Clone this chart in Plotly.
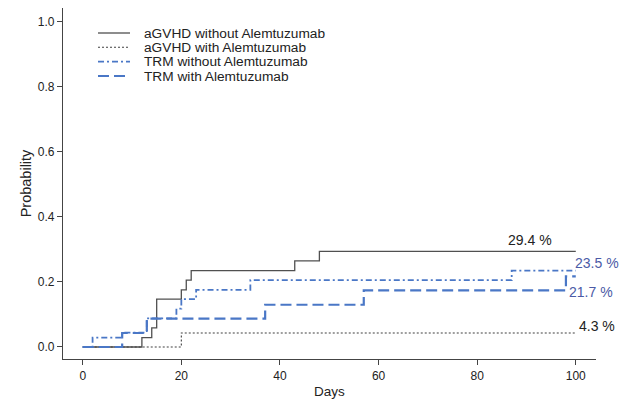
import plotly.graph_objects as go

# ---- data ----
agvhd_wo_days = [0, 12, 14, 15, 20, 21, 22, 43, 48, 100]
agvhd_wo_prob = [0.0, 0.029, 0.059, 0.147, 0.176, 0.206, 0.235, 0.265, 0.294, 0.294]

agvhd_w_days = [0, 20, 100]
agvhd_w_prob = [0.0, 0.043, 0.043]

trm_wo_days = [0, 2, 8, 13, 19, 20, 23, 34, 87, 100]
trm_wo_prob = [0.0, 0.029, 0.044, 0.088, 0.118, 0.147, 0.176, 0.206, 0.235, 0.235]

trm_w_days = [0, 8, 13, 37, 57, 98, 100]
trm_w_prob = [0.0, 0.043, 0.087, 0.130, 0.174, 0.217, 0.217]

series_names = ["aGVHD without Alemtuzumab", "aGVHD with Alemtuzumab",
                "TRM without Alemtuzumab", "TRM with Alemtuzumab"]
end_labels = ["29.4 %", "4.3 %", "23.5 %", "21.7 %"]
x_ticks = [0, 20, 40, 60, 80, 100]
y_ticks = [0.0, 0.2, 0.4, 0.6, 0.8, 1.0]
y_ticklabels = ["0.0", "0.2", "0.4", "0.6", "0.8", "1.0"]

# ---- styles ----
BLACK = "#505050"
BLUE = "#4a77c6"
LABEL_BLUE = "#4b5aa6"
FONT = "Liberation Sans, Arial, sans-serif"
styles = [
    dict(color=BLACK, width=1.3, dash="solid"),
    dict(color="#404040", width=1.1, dash="2px,2px"),
    dict(color=BLUE, width=1.8, dash="6px,3px,2px,3px"),
    dict(color=BLUE, width=2.2, dash="11px,5px"),
]
label_colors = ["#222222", "#222222", LABEL_BLUE, LABEL_BLUE]
# label offsets (xanchor, xshift, yshift)
label_pos = [("right", -22, 11), ("left", 1, 7), ("left", -3, 8), ("left", -9, -16)]

W, H = 621, 399
ML, MR, MT, MB = 63, 25, 8, 40
PW, PH = W - ML - MR, H - MT - MB

fig = go.Figure()
data = [(agvhd_wo_days, agvhd_wo_prob), (agvhd_w_days, agvhd_w_prob),
        (trm_wo_days, trm_wo_prob), (trm_w_days, trm_w_prob)]
for (d, p), name, st in zip(data, series_names, styles):
    fig.add_trace(go.Scatter(x=d, y=p, mode="lines", name=name,
                             line=dict(shape="hv", **st), showlegend=False,
                             hoverinfo="x+y+name"))

# end-of-curve percentage labels
for (d, p), txt, col, (xa, xs, ys) in zip(data, end_labels, label_colors, label_pos):
    fig.add_annotation(x=d[-1], y=p[-1], text=txt, showarrow=False,
                       xanchor=xa, yanchor="middle", xshift=xs, yshift=ys,
                       font=dict(family=FONT, size=14, color=col))

# manual legend (compact row spacing like the reference)
def px_to_paper_x(px):
    return (px - ML) / PW

def px_to_paper_y(py):
    return 1 - (py - MT) / PH

legend_rows = [33, 47.3, 61.6, 76]
for name, st, row in zip(series_names, styles, legend_rows):
    yy = px_to_paper_y(row)
    fig.add_shape(type="line", xref="paper", yref="paper",
                  x0=px_to_paper_x(98), x1=px_to_paper_x(130), y0=yy, y1=yy,
                  line=dict(color=st["color"], width=st["width"], dash=st["dash"]))
    fig.add_annotation(xref="paper", yref="paper", x=px_to_paper_x(142), y=yy,
                       text=name, showarrow=False, xanchor="left", yanchor="middle",
                       font=dict(family=FONT, size=13.7, color="#222222"))

axis_common = dict(showline=True, linecolor="#444444", linewidth=1.2,
                   ticks="outside", ticklen=5, tickcolor="#444444", tickwidth=1,
                   showgrid=False, zeroline=False, automargin=False,
                   tickfont=dict(family=FONT, size=12, color="#222222"))

fig.update_layout(
    width=W, height=H,
    margin=dict(l=ML, r=MR, t=MT, b=MB),
    paper_bgcolor="white", plot_bgcolor="white",
    font=dict(family=FONT, color="#222222"),
    xaxis=dict(range=[-4, 104.1], tickvals=x_ticks,
               title=dict(text="Days", font=dict(family=FONT, size=13.5, color="#222222"),
                          standoff=6),
               **axis_common),
    yaxis=dict(range=[-0.037, 1.043], tickvals=y_ticks, ticktext=y_ticklabels,
               title=dict(text="Probability", font=dict(family=FONT, size=14.5, color="#222222"),
                          standoff=2),
               **axis_common),
)

fig.write_html("out.html", config={"displayModeBar": False},
               post_script="document.body.style.margin='0px';document.body.style.padding='0px';")
